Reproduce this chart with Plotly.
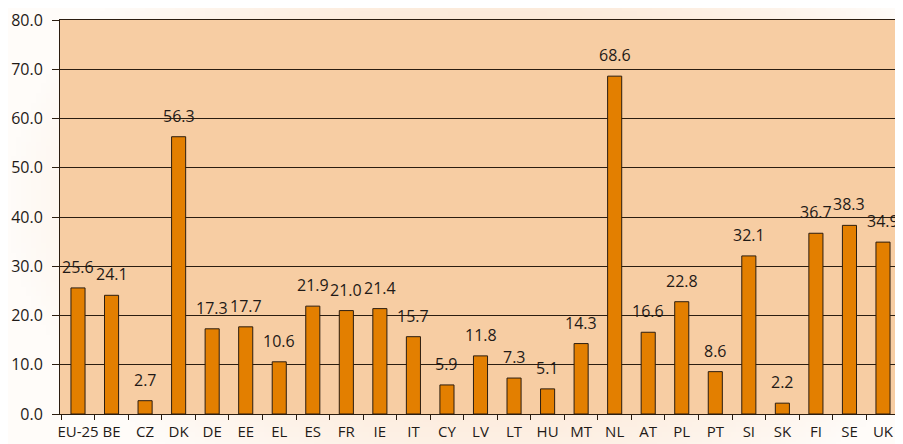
import base64, struct, zlib
import plotly.graph_objects as go

categories = ["EU-25", "BE", "CZ", "DK", "DE", "EE", "EL", "ES", "FR", "IE", "IT", "CY", "LV",
              "LT", "HU", "MT", "NL", "AT", "PL", "PT", "SI", "SK", "FI", "SE", "UK"]
values = [25.6, 24.1, 2.7, 56.3, 17.3, 17.7, 10.6, 21.9, 21.0, 21.4, 15.7, 5.9, 11.8,
          7.3, 5.1, 14.3, 68.6, 16.6, 22.8, 8.6, 32.1, 2.2, 36.7, 38.3, 34.9]
y_ticks = [0, 10, 20, 30, 40, 50, 60, 70, 80]

FONT = "Open Sans"
INK = "#2b1d10"
TEXT = "#1f1a17"
BAR = "#E37F00"
PLOT_BG = "#F7CDA3"


def gradient_png(w=180, h=90):
    peach = (251, 222, 196)
    white = (255, 252, 249)
    rows = b""
    for j in range(h):
        row = b"\x00"
        for i in range(w):
            dx = (i / (w - 1) - 0.55) / 0.55
            dy = (j / (h - 1) - 0.45) / 0.75
            t = min(1.0, (dx * dx + dy * dy) ** 0.5)
            t = t ** 1.6
            c = [int(peach[k] + (white[k] - peach[k]) * t) for k in range(3)]
            row += bytes(c)
        rows += row

    def chunk(tag, data):
        return struct.pack(">I", len(data)) + tag + data + struct.pack(">I", zlib.crc32(tag + data) & 0xffffffff)

    png = b"\x89PNG\r\n\x1a\n"
    png += chunk(b"IHDR", struct.pack(">IIBBBBB", w, h, 8, 2, 0, 0, 0))
    png += chunk(b"IDAT", zlib.compress(rows, 9))
    png += chunk(b"IEND", b"")
    return "data:image/png;base64," + base64.b64encode(png).decode()


fig = go.Figure(
    go.Bar(
        x=categories,
        y=values,
        marker=dict(color=BAR, line=dict(color=INK, width=1)),
        hoverinfo="x+y",
    )
)

# value labels above the bars
for cat, val in zip(categories, values):
    fig.add_annotation(
        x=cat, y=val, text=f"{val:.1f}",
        showarrow=False, yanchor="bottom", xanchor="center",
        yshift=8,
        font=dict(family=FONT, size=16, color=TEXT),
    )

# the page body adds an 8px margin, so the figure is sized to fit inside it
W, H = 895, 436
ml, mr, mt, mb = 52, 2, 12, 30
pw, ph = W - ml - mr, H - mt - mb

fig.update_layout(
    width=W,
    height=H,
    margin=dict(l=ml, r=mr, t=mt, b=mb),
    paper_bgcolor="#FDEEE2",
    plot_bgcolor="rgba(0,0,0,0)",
    bargap=0.58,
    showlegend=False,
    font=dict(family=FONT, size=16, color=TEXT),
    images=[dict(
        source=gradient_png(),
        xref="paper", yref="paper",
        x=-ml / pw, y=1 + mt / ph,
        sizex=W / pw, sizey=H / ph,
        xanchor="left", yanchor="top",
        sizing="stretch", layer="below",
    )],
    shapes=[dict(
        type="rect", xref="paper", yref="paper",
        x0=0, x1=1, y0=0, y1=1,
        fillcolor=PLOT_BG, line=dict(width=0), layer="below",
    )],
)

fig.update_xaxes(
    type="category",
    automargin=False,
    tickson="boundaries",
    ticks="outside",
    ticklen=5,
    tickcolor=INK,
    tickangle=0,
    ticklabelstandoff=4,
    showline=True,
    linecolor=INK,
    linewidth=1,
    mirror=True,
    showgrid=False,
    tickfont=dict(family=FONT, size=15, color=TEXT),
)
fig.update_yaxes(
    range=[0, 80],
    automargin=False,
    tickvals=y_ticks,
    tickformat=".1f",
    ticks="outside",
    ticklen=7,
    tickcolor=INK,
    ticklabelstandoff=6,
    showline=True,
    linecolor=INK,
    linewidth=1,
    mirror=True,
    showgrid=True,
    gridcolor=INK,
    gridwidth=1,
    zeroline=False,
    tickfont=dict(family=FONT, size=16, color=TEXT),
)

fig.write_html("out.html")
